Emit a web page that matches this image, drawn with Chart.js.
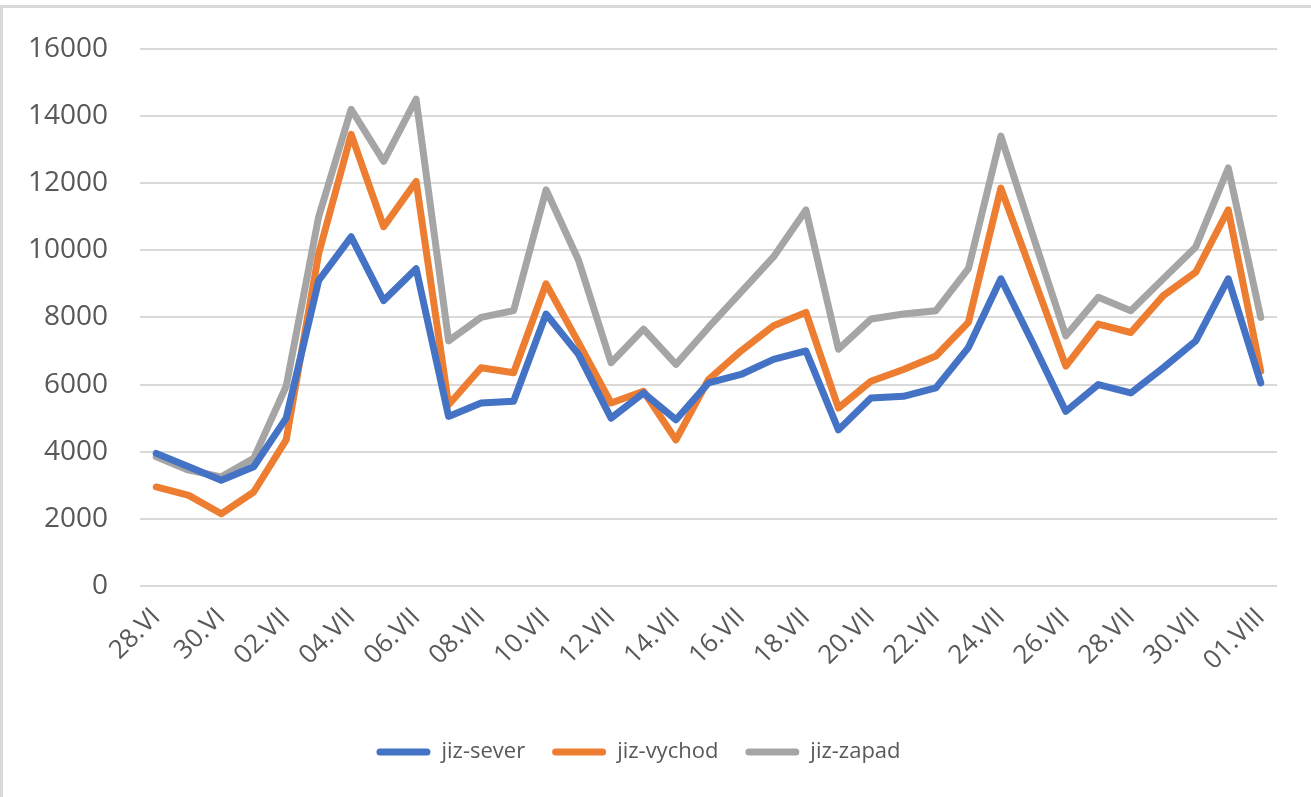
<!DOCTYPE html>
<html>
<head>
<meta charset="utf-8">
<script src="https://cdn.jsdelivr.net/npm/chart.js@4/dist/chart.umd.min.js"></script>
<style>
html,body{margin:0;padding:0;background:#fff;}
#wrap{position:relative;width:1311px;height:797px;}
</style>
</head>
<body>
<div id="wrap"><canvas id="c" width="1311" height="797"></canvas></div>
<script>
const categories = ["28.VI","29.VI","30.VI","01.VII","02.VII","03.VII","04.VII","05.VII","06.VII","07.VII","08.VII","09.VII","10.VII","11.VII","12.VII","13.VII","14.VII","15.VII","16.VII","17.VII","18.VII","19.VII","20.VII","21.VII","22.VII","23.VII","24.VII","25.VII","26.VII","27.VII","28.VII","29.VII","30.VII","31.VII","01.VIII"];
const jizSever = [3950,3550,3150,3550,5000,9100,10400,8500,9450,5050,5450,5500,8100,6900,5000,5750,4950,6050,6300,6750,7000,4650,5600,5650,5900,7100,9150,7200,5200,6000,5750,6500,7300,9150,6050];
const jizVychod = [2950,2700,2150,2800,4350,9900,13450,10700,12050,5400,6500,6350,9000,7250,5450,5800,4350,6150,7000,7750,8150,5300,6100,6450,6850,7850,11850,9200,6550,7800,7550,8650,9350,11200,6400];
const jizZapad = [3850,3450,3250,3800,5950,11000,14200,12650,14500,7300,8000,8200,11800,9700,6650,7650,6600,7700,8750,9800,11200,7050,7950,8100,8200,9450,13400,10400,7450,8600,8200,9150,10100,12450,8000];
const seriesNames = ["jiz-sever","jiz-vychod","jiz-zapad"];
const seriesColors = ["#4472C4","#ED7D31","#A5A5A5"];

const FONT = "'Open Sans', 'Noto Sans', sans-serif";
const TXT = "#595959";

const frame = {
  id: 'frame',
  beforeDraw(chart) {
    const ctx = chart.ctx;
    ctx.save();
    ctx.fillStyle = '#fff';
    ctx.fillRect(0, 0, chart.width, chart.height);
    ctx.fillStyle = '#d9d9d9';
    ctx.fillRect(0, 5, chart.width, 3);
    ctx.fillRect(0, 5, 3, chart.height - 5);
    ctx.restore();
  }
};

const data = [jizSever, jizVychod, jizZapad];
new Chart(document.getElementById('c'), {
  type: 'line',
  data: {
    labels: categories,
    datasets: data.map((d, i) => ({
      label: seriesNames[i],
      data: d,
      borderColor: seriesColors[i],
      backgroundColor: seriesColors[i],
      borderWidth: 7,
      pointRadius: 0,
      pointHoverRadius: 0,
      tension: 0,
      borderJoinStyle: 'round',
      borderCapStyle: 'round',
      fill: false
    }))
  },
  options: {
    responsive: false,
    animation: false,
    events: [],
    layout: { padding: { top: 47, right: 34, bottom: 24, left: 0 } },
    plugins: {
      tooltip: { enabled: false },
      legend: {
        position: 'bottom',
        labels: {
          boxWidth: 54,
          boxHeight: 7,
          padding: 27,
          color: TXT,
          font: { family: FONT, size: 22 },
          generateLabels(chart) {
            return chart.data.datasets.map((ds, i) => ({
              text: ds.label,
              fillStyle: ds.borderColor,
              strokeStyle: ds.borderColor,
              lineWidth: 0,
              fontColor: TXT,
              hidden: false,
              datasetIndex: i,
              borderRadius: 3.5
            }));
          },
          useBorderRadius: true,
          borderRadius: 3.5
        }
      }
    },
    scales: {
      x: {
        offset: true,
        grid: { display: false },
        border: { display: false },
        afterFit(scale) { scale.height = 128; },
        ticks: {
          autoSkip: false,
          maxRotation: 45,
          minRotation: 45,
          padding: 8,
          color: TXT,
          font: { family: FONT, size: 26 },
          callback(v, i) { return i % 2 === 0 ? categories[i] : ''; }
        }
      },
      y: {
        min: 0,
        max: 16000,
        afterFit(scale) { scale.width = 140; },
        border: { display: false },
        grid: { color: '#d9d9d9', lineWidth: 2, drawTicks: false },
        ticks: {
          stepSize: 2000,
          padding: 32,
          color: TXT,
          font: { family: FONT, size: 28 },
          callback(v) { return String(v); }
        }
      }
    }
  },
  plugins: [frame]
});
</script>
</body>
</html>
